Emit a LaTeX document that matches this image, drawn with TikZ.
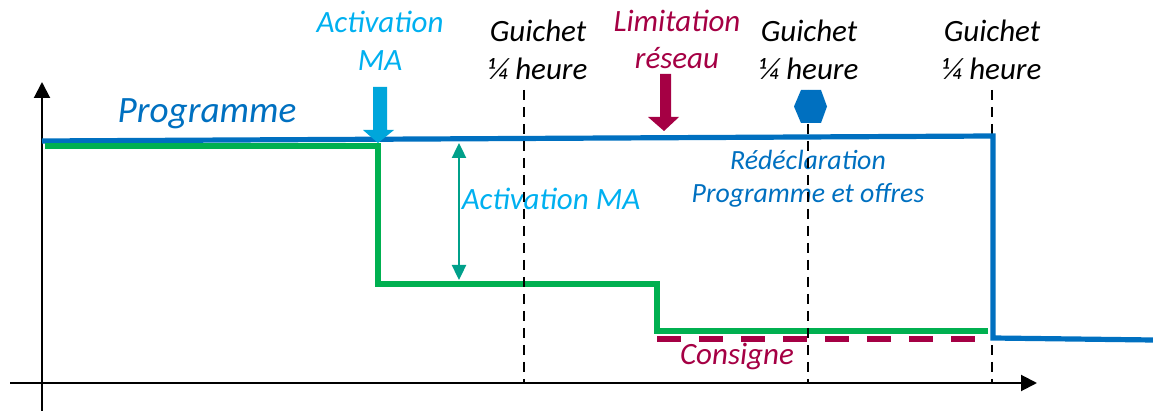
\documentclass[tikz,border=0pt]{standalone}
\usepackage{fontspec}
\setmainfont{Carlito}
\usetikzlibrary{arrows.meta}
\definecolor{progblue}{HTML}{0070C0}
\definecolor{macyan}{HTML}{00B0F0}
\definecolor{maarrow}{HTML}{00A6DB}
\definecolor{crimson}{HTML}{A50044}
\definecolor{consgreen}{HTML}{00B050}
\definecolor{tealc}{HTML}{00A08A}
\begin{document}
\begin{tikzpicture}[x=0.5pt,y=-0.5pt,
  lbl/.style={font=\fontsize{15.5}{19}\selectfont\itshape, inner sep=0pt, anchor=base},
  small/.style={font=\fontsize{13.9}{17}\selectfont\itshape, inner sep=0pt, anchor=base},
  axis/.style={line width=1pt, black, -{Triangle[width=8pt,length=8pt]}},
  guide/.style={line width=0.9pt, black, dash pattern=on 5pt off 3.5pt},
  progline/.style={line width=2.6pt, progblue, line join=miter},
  greenline/.style={line width=2.8pt, consgreen, line join=miter},
  consline/.style={line width=2.8pt, crimson, dash pattern=on 12pt off 9pt}
]
\useasboundingbox (0,0) rectangle (1153,411);

% axes
\coordinate (ybot) at (42,411);
\coordinate (ytop) at (42,82);
\coordinate (xl) at (10,383);
\coordinate (xr) at (1037,383);
\draw[axis] (ybot) -- (ytop);
\draw[axis] (xl) -- (xr);

% third guide line (under the blue drop)
\coordinate (g3t) at (992,90);  \coordinate (g3b) at (992,383);
\draw[guide] (g3t) -- (g3b);

% programme blue line
\coordinate (b0) at (42,141);
\coordinate (b1) at (993,136);
\coordinate (b2) at (993,338);
\coordinate (b3) at (1153,340);
\draw[progline] (b0) -- (b1) -- (b2) -- (b3);

% green line
\coordinate (p0) at (45,146);
\coordinate (p1) at (378,146);
\coordinate (p2) at (378,284);
\coordinate (p3) at (657,284);
\coordinate (p4) at (657,331);
\coordinate (p5) at (988,331);
\draw[greenline] (p0) -- (p1) -- (p2) -- (p3) -- (p4) -- (p5);

% consigne dashed
\coordinate (c1) at (657,339);
\coordinate (c2) at (975,339);
\draw[consline] (c1) -- (c2);

% activation MA block arrow
\fill[maarrow] (373,87) -- (387,87) -- (387,130) -- (394,130) -- (378,143) -- (363,130) -- (373,130) -- cycle;
% limitation reseau block arrow
\fill[crimson] (660,74) -- (671,74) -- (671,117) -- (679,117) -- (664,131) -- (648,117) -- (660,117) -- cycle;

% activation MA double arrow
\coordinate (d1) at (459,143);
\coordinate (d2) at (459,280);
\draw[tealc, line width=1.2pt, {Triangle[width=7pt,length=7.5pt]}-{Triangle[width=7pt,length=7.5pt]}] (d1) -- (d2);

% texts
\node[lbl, text=progblue, font=\fontsize{18.6}{22}\selectfont\itshape] (prog) at (207,123) {Programme};
\node[lbl, text=macyan] (act1) at (380,33) {Activation};
\node[lbl, text=macyan] (act2) at (380,71) {MA};
\node[lbl, text=macyan] (actmid) at (551,210) {Activation MA};
\node[lbl] (gu1a) at (538,42) {Guichet};
\node[lbl] (gu1b) at (538,80) {¼ heure};
\node[lbl] (gu2a) at (809,42) {Guichet};
\node[lbl] (gu2b) at (809,80) {¼ heure};
\node[lbl] (gu3a) at (992,42) {Guichet};
\node[lbl] (gu3b) at (992,80) {¼ heure};
\node[lbl, text=crimson] (lim1) at (677,32) {Limitation};
\node[lbl, text=crimson] (lim2) at (677,69) {réseau};
\node[small, text=progblue] (red1) at (808,170) {Rédéclaration};
\node[small, text=progblue] (red2) at (808,203) {Programme et offres};
\node[lbl, text=crimson] (cons) at (737,365) {Consigne};

% guide lines 1 and 2, drawn on top
\coordinate (g1t) at (524,90);  \coordinate (g1b) at (524,383);
\coordinate (g2t) at (808,90);  \coordinate (g2b) at (808,383);
\draw[guide] (g1t) -- (g1b);
\draw[guide] (g2t) -- (g2b);

% hexagon
\fill[progblue] (794,106.5) -- (801,90) -- (821,90) -- (827,106.5) -- (821,123) -- (801,123) -- cycle;
\end{tikzpicture}
\end{document}
